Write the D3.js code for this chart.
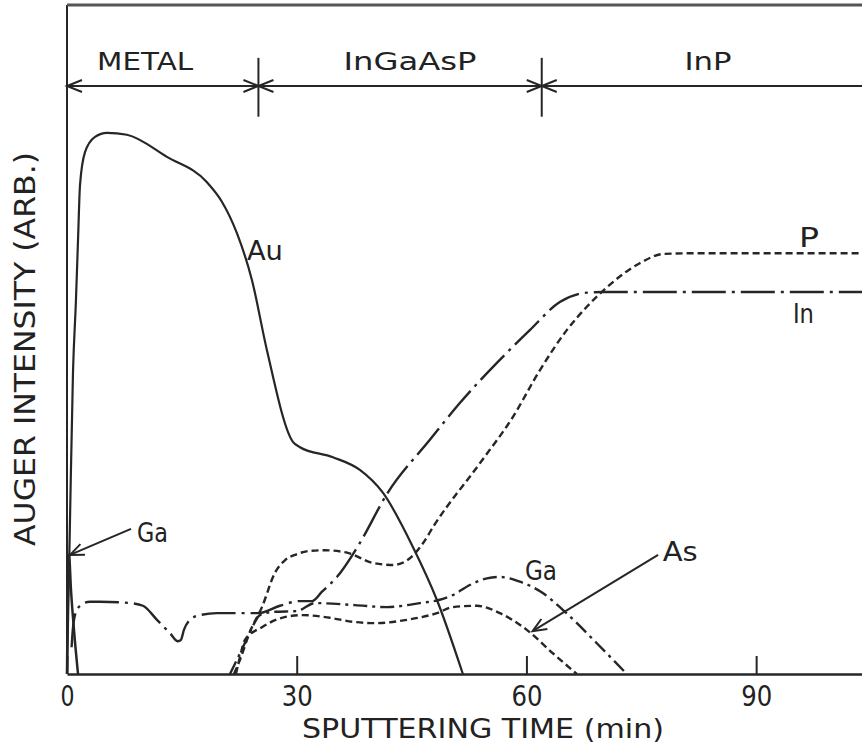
<!DOCTYPE html>
<html>
<head>
<meta charset="utf-8">
<script src="https://cdn.jsdelivr.net/npm/d3@7"></script>
<style>
  body { margin: 0; background: #fff; }
  svg { display: block; }
  text { font-family: "DejaVu Sans", sans-serif; fill: #222; }
</style>
</head>
<body>
<svg id="chart" width="862" height="746"></svg>
<script>
// depth profile: [sputtering time (min), auger intensity (arb.)]
const auCurve = [[0,0],[0.39,23],[0.78,45],[1.17,55.9],[1.44,64.9],[1.7,73.1],[2.35,78],[3.66,80.3],[5.22,80.9],[7.83,80.6],[13.05,77.3],[18.28,73.5],[20.23,70.6],[22.19,65.9],[24.15,58.9],[26.11,48.4],[29.5,34.7],[30.42,33.9],[34.73,32.4],[38.25,30.5],[41.25,27.1],[45.17,19],[48.3,11.1],[51.7,0]];
const gaSurface = [[0,0],[0.07,8.1],[0.26,17.8],[0.52,12.6],[0.91,6.6],[1.44,0]];
const inCurve = [[0.6,4],[0.75,6.5],[1.04,8.8],[1.7,10.2],[3,10.8],[4.31,10.8],[8.22,10.6],[9.92,10.2],[11.75,8.1],[13.45,6.1],[14.49,4.9],[14.88,5.1],[15.27,6.6],[16.06,8.1],[17.36,8.8],[19.58,9.1],[24.93,9.1],[27.8,10.2],[30.42,10.9],[32,10.9],[33.3,12.3],[35.25,14.5],[38.25,19.6],[41.78,26.9],[47.39,35],[51.3,40.5],[56.14,46.5],[60.44,51.4],[64.36,55.6],[67.89,57],[69.97,57.1],[105,57.1]];
const gaCurve = [[21.28,0],[22.98,4],[24.15,6.9],[25.2,8.8],[27.15,9.3],[30.03,9.4],[32.38,10.6],[37.6,10.3],[41.78,10],[46.08,10.6],[48.69,11.1],[50.39,11.8],[52.61,13.3],[54.83,14.3],[56.53,14.5],[59.14,13.8],[62.14,12.1],[64.75,9.6],[69.19,4.6],[73.11,0]];
const pCurve = [[21.8,0],[22.58,2.1],[23.89,6.3],[25.46,10],[27.15,15.1],[28.46,17],[29.77,17.8],[31.72,18.4],[33.68,18.5],[36.68,18.1],[39.95,16.6],[42.56,16.3],[44.78,17.3],[46.34,19.3],[48.04,22.4],[53.92,31.5],[58.22,38.4],[61.75,45.4],[65.27,51.4],[67.89,54.9],[70.5,57.8],[74.8,61.4],[77.94,62.8],[82.64,62.9],[105,62.9]];
const asCurve = [[22.06,0],[22.58,2.5],[23.24,5.1],[25.46,7],[28.07,8.4],[30.81,8.8],[34.33,8.4],[37.34,7.8],[40.47,7.6],[44.39,8.1],[48.3,9.1],[50.39,10],[53.52,10.2],[56.53,9.1],[60.05,6.6],[63.45,3.1],[66.58,0]];

const layerNames = ["METAL", "InGaAsP", "InP"];
const layerEdges = [0, 25, 62, 105];
const timeTicks = [0, 30, 60, 90];

const ink = "#262626";
const svg = d3.select("#chart");

const x = d3.scaleLinear().domain([0, 105]).range([67, 871]);
const y = d3.scaleLinear().domain([0, 100]).range([674, 5]);

//frame: left axis and top border
svg.append("line").attr("x1", x(0)).attr("x2", x(0)).attr("y1", y(0)).attr("y2", y(100))
  .attr("stroke", ink).attr("stroke-width", 2);
svg.append("line").attr("x1", x(0)).attr("x2", 862).attr("y1", y(100)).attr("y2", y(100))
  .attr("stroke", "#555").attr("stroke-width", 3);

//bottom axis, ticks point inward
const xaxis = d3.axisBottom(x).tickValues(timeTicks).tickSize(-18).tickSizeOuter(0).tickPadding(12);
const gx = svg.append("g").attr("transform", `translate(0,${y(0)})`).call(xaxis);
gx.select(".domain").attr("stroke", ink).attr("stroke-width", 2.5);
gx.selectAll(".tick line").attr("stroke", ink).attr("stroke-width", 2);
gx.selectAll(".tick text")
  .style("font-size", "28px").style("font-family", "DejaVu Sans, sans-serif").attr("fill", "#222")
  .attr("textLength", d => d === 0 ? 14 : 31).attr("lengthAdjust", "spacingAndGlyphs");

function label(txt, px, py, size, len, anchor) {
  return svg.append("text").attr("x", px).attr("y", py)
    .attr("text-anchor", anchor || "start")
    .style("font-size", size + "px")
    .attr("textLength", len).attr("lengthAdjust", "spacingAndGlyphs")
    .text(txt);
}

//axis titles
label("SPUTTERING TIME (min)", 483, 738, 27, 362, "middle");
svg.append("text").attr("transform", "translate(35,349) rotate(-90)")
  .attr("text-anchor", "middle").style("font-size", "28px")
  .attr("textLength", 394).attr("lengthAdjust", "spacingAndGlyphs")
  .text("AUGER INTENSITY (ARB.)");

//layer bar with arrows
const barV = 87.9;
svg.append("line").attr("x1", x(0)).attr("x2", 862).attr("y1", y(barV)).attr("y2", y(barV))
  .attr("stroke", ink).attr("stroke-width", 2);

function chevron(tx, ty, dir) {
  // dir = 1 -> points left, -1 -> points right
  svg.append("polyline")
    .attr("points", `${tx + dir * 15},${ty - 6} ${tx},${ty} ${tx + dir * 15},${ty + 6}`)
    .attr("fill", "none").attr("stroke", ink).attr("stroke-width", 2);
}
chevron(x(0), y(barV), 1);
layerEdges.slice(1, 3).forEach(e => {
  svg.append("line").attr("x1", x(e)).attr("x2", x(e)).attr("y1", y(92.1)).attr("y2", y(83.3))
    .attr("stroke", ink).attr("stroke-width", 2);
  chevron(x(e), y(barV), -1);
  chevron(x(e), y(barV), 1);
});

const layerCenters = [10.2, 44.8, 83.7];
const layerWidths = [96, 133, 47];
layerNames.forEach((n, i) => label(n, x(layerCenters[i]), y(90.3), 25, layerWidths[i], "middle"));

//curves
const line = d3.line().x(d => x(d[0])).y(d => y(d[1])).curve(d3.curveMonotoneX);
const series = [
  { data: auCurve, dash: null, w: 2.2 },
  { data: gaSurface, dash: null, w: 2.5 },
  { data: inCurve, dash: "34,6,3,6", w: 2.4 },
  { data: gaCurve, dash: "14,5,3,5", w: 2.4 },
  { data: pCurve, dash: "7,4", w: 2.4 },
  { data: asCurve, dash: "7,4", w: 2.4 }
];
series.forEach(s => {
  svg.append("path").datum(s.data)
    .attr("fill", "none").attr("stroke", ink).attr("stroke-width", s.w)
    .attr("stroke-dasharray", s.dash).attr("d", line);
});

//curve labels
const curveLabels = [
  { text: "Au", t: 23.5, v: 61.9, w: 36 },
  { text: "Ga", t: 9.14, v: 19.7, w: 31 },
  { text: "Ga", t: 59.8, v: 14.1, w: 32 },
  { text: "As", t: 77.8, v: 16.9, w: 35 },
  { text: "P", t: 95.6, v: 63.8, w: 20 },
  { text: "In", t: 94.8, v: 52.5, w: 21 }
];
curveLabels.forEach(l => label(l.text, x(l.t), y(l.v), 26, l.w));

//pointer arrows
function pointer(t0, v0, t1, v1) {
  const x0 = x(t0), y0 = y(v0), x1 = x(t1), y1 = y(v1);
  const a = Math.atan2(y1 - y0, x1 - x0);
  svg.append("line").attr("x1", x0).attr("y1", y0).attr("x2", x1).attr("y2", y1)
    .attr("stroke", ink).attr("stroke-width", 2);
  const h = 15, s = 0.4;
  svg.append("polyline")
    .attr("points", `${x1 - h * Math.cos(a - s)},${y1 - h * Math.sin(a - s)} ${x1},${y1} ${x1 - h * Math.cos(a + s)},${y1 - h * Math.sin(a + s)}`)
    .attr("fill", "none").attr("stroke", ink).attr("stroke-width", 2);
}
pointer(8.36, 21.7, 0.39, 17.8);
pointer(77.2, 17.8, 60.8, 6.4);
</script>
</body>
</html>
